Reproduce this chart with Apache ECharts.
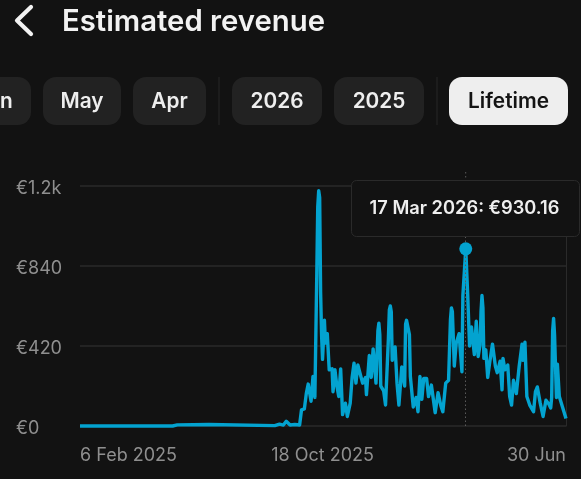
<!DOCTYPE html>
<html><head><meta charset="utf-8">
<style>html,body{margin:0;padding:0;background:#121212}#c{width:581px;height:479px}</style>
<script src="https://cdn.jsdelivr.net/npm/echarts@6/dist/echarts.min.js"></script>
</head><body><div id="c"></div>
<script>
// Days since 6 Feb 2025
const dayIndex = [0,90,92,94,97,99,102,135,136,204,209,213,216,220,225,230,232,235,237,239,242,244,246,248,249,250,251,252,253,254,256,257,259,261,264,265,267,269,271,273,275,278,280,283,285,287,289,291,293,296,299,300,303,305,307,310,312,313,314,315,318,320,323,324,325,326,327,330,332,334,337,340,341,342,344,345,346,349,352,354,356,358,360,363,365,368,372,375,378,380,383,386,388,389,390,392,394,397,400,401,403,404,406,408,410,413,415,417,419,420,421,422,423,425,427,429,432,435,437,440,442,443,445,448,450,452,454,457,460,463,464,466,468,471,475,477,479,482,485,488,491,493,494,495,496,497,499,500,502,505,509];
const revenue = [0,0,8,0,0,8,6,8,0,2,10,5,25,5,8,5,85,90,170,220,130,260,150,800,1150,1235,1200,700,480,350,555,435,485,295,300,180,295,210,155,300,60,120,50,120,255,330,225,320,320,225,255,165,370,255,405,225,500,540,480,210,185,110,460,610,630,600,345,415,225,110,310,210,535,555,550,480,260,100,150,75,260,140,250,250,155,215,70,175,105,75,225,240,560,620,600,315,435,485,285,685,690,930.16,695,420,520,375,550,365,425,600,685,620,355,400,255,330,430,315,280,340,190,355,295,320,155,110,240,170,315,430,345,440,155,110,75,180,205,120,50,135,115,95,150,500,565,480,150,325,155,105,40];
const yTicks = [0,420,840,1260];
const yLabels = ['€0','€420','€840','€1.2k'];
const xTicks = [0,254,509];
const xLabels = ['6 Feb 2025','18 Oct 2025','30 Jun'];
const selectedDay = 404;
const tooltipText = '17 Mar 2026: €930.16';
const pills = [['Jun',-43,74],['May',43,78],['Apr',133,73],['2026',232,90],['2025',334,90]];

const font = 'Inter, "Noto Sans", sans-serif';
const BG = '#121212', GRID = '#2a2a2a', BLUE = '#03a3d0', MUTED = '#8f8f8f', DOT = '#5a5a5a';
const selIdx = dayIndex.indexOf(selectedDay);

const graphic = [
  {type:'polyline',z:100,shape:{points:[[31,7],[17,20.5],[31,34]]},style:{fill:null,stroke:'#f2f2f2',lineWidth:4.2,lineCap:'round',lineJoin:'round'}},
  {type:'text',z:100,x:62,y:22,style:{text:'Estimated revenue',fill:'#f2f2f2',font:'600 29.3px '+font,textVerticalAlign:'middle'}}
];
pills.forEach(p=>{
  graphic.push({type:'rect',z:100,shape:{x:p[1],y:77,width:p[2],height:48,r:13},style:{fill:'#222222'}});
  graphic.push({type:'text',z:101,x:p[1]+p[2]/2,y:102,style:{text:p[0],fill:'#eeeeee',font:'600 20.8px '+font,textAlign:'center',textVerticalAlign:'middle'}});
});
[219,437].forEach(x=>graphic.push({type:'rect',z:100,shape:{x:x-0.5,y:77,width:1,height:48},style:{fill:'#262626'}}));
graphic.push({type:'rect',z:100,shape:{x:449,y:77,width:119,height:48,r:13},style:{fill:'#eeeeee'}});
graphic.push({type:'text',z:101,x:508.5,y:102,style:{text:'Lifetime',fill:'#141414',font:'600 20.8px '+font,textAlign:'center',textVerticalAlign:'middle'}});
graphic.push({type:'line',z:99,shape:{x1:465.7,y1:172,x2:465.7,y2:186},style:{stroke:DOT,lineWidth:1,lineDash:[1.5,2.5]}});
graphic.push({type:'rect',z:100,shape:{x:351.5,y:180.5,width:228,height:56,r:5},style:{fill:BG,stroke:GRID,lineWidth:1}});
graphic.push({type:'text',z:101,x:464.5,y:209,style:{text:tooltipText,fill:'#eeeeee',font:'600 18.3px '+font,textAlign:'center',textVerticalAlign:'middle'}});

const chart = echarts.init(document.getElementById('c'),null,{renderer:'canvas'});
chart.setOption({
  animation:false,
  backgroundColor:BG,
  grid:{left:80,right:15,top:186,bottom:53,containLabel:false},
  xAxis:{type:'value',min:0,max:509,
    axisLine:{show:false},axisTick:{show:false},splitLine:{show:false},
    axisLabel:{customValues:xTicks,color:MUTED,fontFamily:font,fontSize:18,margin:21,
      alignMinLabel:'left',alignMaxLabel:'right',showMinLabel:true,showMaxLabel:true,
      formatter:v=>xLabels[xTicks.indexOf(v)]}},
  yAxis:[
    {type:'value',min:0,max:1260,interval:420,
      axisLine:{show:false},axisTick:{show:false},
      splitLine:{lineStyle:{color:GRID,width:1.5}},
      axisLabel:{color:MUTED,fontFamily:font,fontSize:18,align:'left',margin:64,
        formatter:v=>'{y|'+yLabels[yTicks.indexOf(v)]+'}',
        rich:{y:{color:MUTED,fontFamily:font,fontSize:18,padding:[6,0,0,0]}}}},
    {type:'value',min:0,max:1260,interval:420,position:'right',
      axisLine:{show:true,lineStyle:{color:GRID,width:1}},axisTick:{show:false},
      splitLine:{show:false},axisLabel:{show:false}}
  ],
  graphic:graphic,
  series:[{
    type:'line',
    data:dayIndex.map((d,i)=>[d,revenue[i]]),
    symbol:'none',
    lineStyle:{color:BLUE,width:3.4,join:'round'},
    clip:false,
    markPoint:{silent:true,symbol:'circle',symbolSize:13,itemStyle:{color:BLUE},label:{show:false},
      data:[{coord:[dayIndex[selIdx],revenue[selIdx]]}]},
    markLine:{silent:true,symbol:'none',label:{show:false},
      lineStyle:{color:DOT,type:[1.5,2.5],width:1},
      data:[[{coord:[selectedDay,0]},{coord:[selectedDay,1260]}]]}
  }]
});
</script></body></html>
